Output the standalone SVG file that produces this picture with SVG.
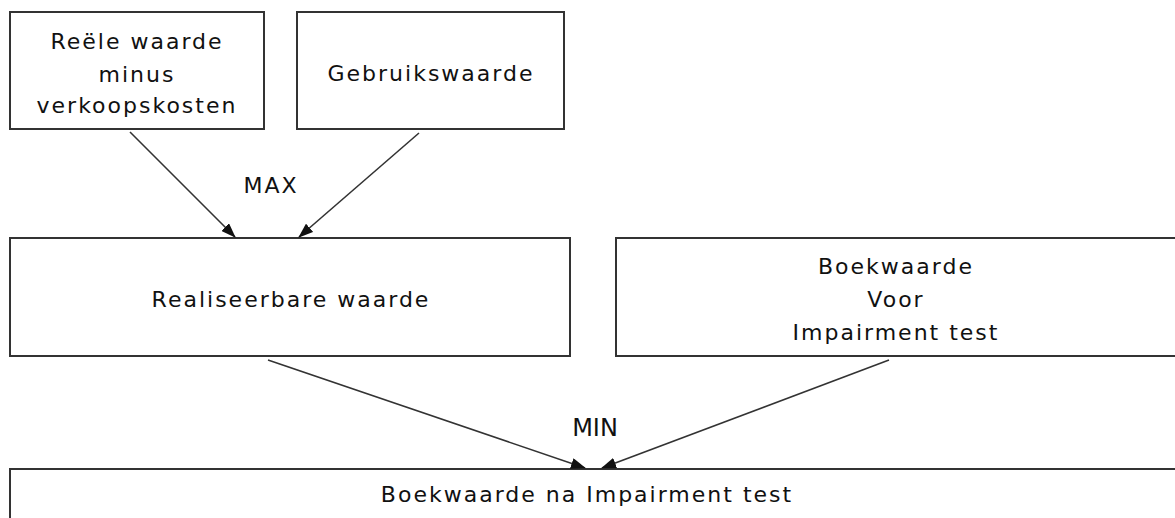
<svg xmlns="http://www.w3.org/2000/svg" width="1175" height="518" viewBox="0 0 1175 518">
  <defs>
    <marker id="arrow" markerUnits="userSpaceOnUse" markerWidth="15" markerHeight="11" refX="14" refY="5.5" orient="auto">
      <path d="M0,0 L15,5.5 L0,11 z" fill="#111"/>
    </marker>
    <style>
      .box { fill: #ffffff; stroke: #333333; stroke-width: 2; }
      .lbl { font-family: "DejaVu Sans", Verdana, sans-serif; font-size: 22px; letter-spacing: 2px; fill: #111111; text-anchor: middle; }
      .op { font-family: "DejaVu Sans", Verdana, sans-serif; font-size: 22px; letter-spacing: 2px; fill: #111111; text-anchor: middle; }
      .conn { stroke: #333333; stroke-width: 1.6; fill: none; marker-end: url(#arrow); }
    </style>
  </defs>
  <rect width="1175" height="518" fill="#ffffff"/>

  <g id="node-reele-waarde">
    <rect class="box" x="10" y="12" width="254" height="117"/>
    <text class="lbl" x="137" y="49">Reële waarde</text>
    <text class="lbl" x="137" y="82">minus</text>
    <text class="lbl" x="137" y="113">verkoopskosten</text>
  </g>

  <g id="node-gebruikswaarde">
    <rect class="box" x="297" y="12" width="267" height="117"/>
    <text class="lbl" x="431" y="81">Gebruikswaarde</text>
  </g>

  <g id="node-realiseerbare-waarde">
    <rect class="box" x="10" y="238" width="560" height="118"/>
    <text class="lbl" x="291" y="307">Realiseerbare waarde</text>
  </g>

  <g id="node-boekwaarde-voor">
    <rect class="box" x="616" y="238" width="562" height="118"/>
    <text class="lbl" x="896" y="274">Boekwaarde</text>
    <text class="lbl" x="896" y="307">Voor</text>
    <text class="lbl" x="896" y="340">Impairment test</text>
  </g>

  <g id="node-boekwaarde-na">
    <rect class="box" x="10" y="469" width="1170" height="60"/>
    <text class="lbl" x="587" y="502">Boekwaarde na Impairment test</text>
  </g>

  <g id="connectors">
    <line class="conn" x1="130" y1="132" x2="235" y2="237"/>
    <line class="conn" x1="419" y1="133" x2="299" y2="237"/>
    <line class="conn" x1="268" y1="360" x2="585" y2="468"/>
    <line class="conn" x1="889" y1="360" x2="602" y2="468"/>
    <text class="op" x="271" y="193">MAX</text>
    <text class="op" x="595" y="436" style="letter-spacing:0px;font-size:24px">MIN</text>
  </g>
</svg>
